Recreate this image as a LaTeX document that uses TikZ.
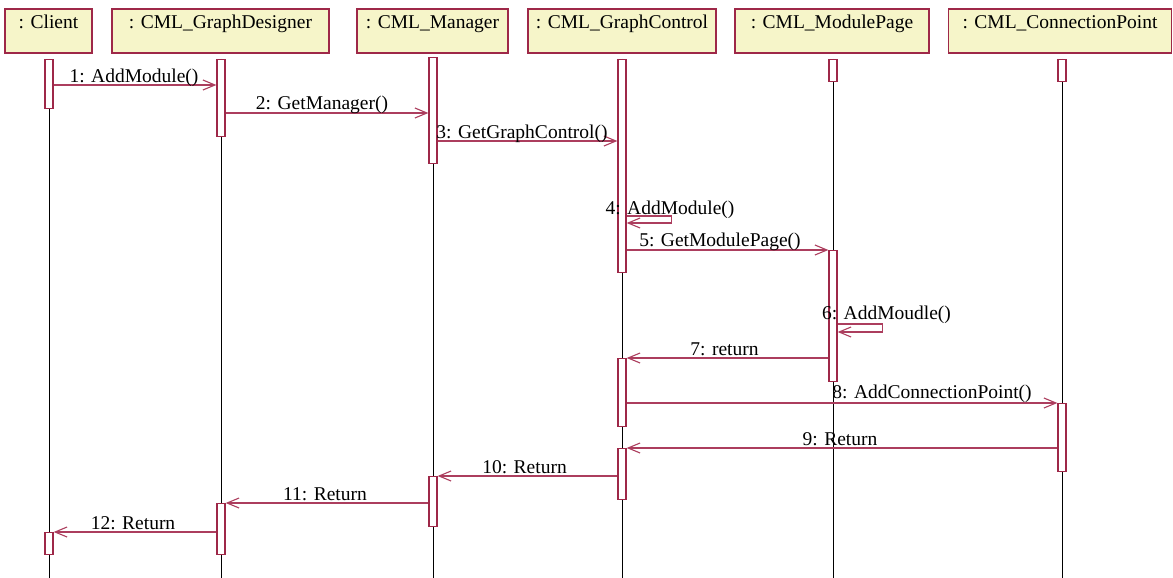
\documentclass[tikz,border=0pt]{standalone}
\usepackage{fontspec}
\setmainfont{Liberation Serif}
\usetikzlibrary{arrows.meta}

\definecolor{frame}{RGB}{158,40,72}
\definecolor{msgcol}{RGB}{172,62,94}
\definecolor{headfill}{RGB}{246,245,201}

\begin{document}
\begin{tikzpicture}[x=1pt,y=-1pt,
  font=\fontsize{19.5}{23}\selectfont,
  head/.style={draw=frame, fill=headfill, line width=1.6pt, anchor=north,
    inner xsep=0pt, inner ysep=6pt, text height=14pt, text depth=18pt},
  act/.style={draw=frame, fill=white, line width=1.3pt, minimum width=8pt,
    inner sep=0pt, anchor=north},
  life/.style={draw=black, line width=0.9pt},
  msg/.style={draw=msgcol, line width=1.2pt,
    -{Straight Barb[length=12pt,width=10pt,line width=1.1pt]}},
  lbl/.style={anchor=base, inner sep=0pt}]

\useasboundingbox (0,0) rectangle (1173,578);

% object headers
\node[head, minimum width=87pt]  (client) at (48.5,8)  {: Client};
\node[head, minimum width=217pt] (gd)     at (220.5,8) {: CML\_GraphDesigner};
\node[head, minimum width=151pt] (mgr)    at (432.5,8) {: CML\_Manager};
\node[head, minimum width=188pt] (gc)     at (622,8)   {: CML\_GraphControl};
\node[head, minimum width=194pt] (mp)     at (832,8)   {: CML\_ModulePage};
\node[head, minimum width=223pt] (cp)     at (1060,8)  {: CML\_ConnectionPoint};

% lifeline ends
\coordinate (clientEnd) at (49,578);
\coordinate (gdEnd)     at (221,578);
\coordinate (mgrEnd)    at (433,578);
\coordinate (gcEnd)     at (622,578);
\coordinate (mpEnd)     at (833,578);
\coordinate (cpEnd)     at (1062,578);

\draw[life] (49,59)   -- (clientEnd);
\draw[life] (221,59)  -- (gdEnd);
\draw[life] (433,57)  -- (mgrEnd);
\draw[life] (622,59)  -- (gcEnd);
\draw[life] (833,59)  -- (mpEnd);
\draw[life] (1062,59) -- (cpEnd);

% activation bars
\node[act, minimum height=49pt]  (c1)  at (49,59)   {};
\node[act, minimum height=22pt]  (c2)  at (49,532)  {};
\node[act, minimum height=77pt]  (d1)  at (221,59)  {};
\node[act, minimum height=51pt]  (d2)  at (221,503) {};
\node[act, minimum height=106pt] (m1)  at (433,57)  {};
\node[act, minimum height=50pt]  (m2)  at (433,476) {};
\node[act, minimum height=213pt] (g1)  at (622,59)  {};
\node[act, minimum height=68pt]  (g2)  at (622,358) {};
\node[act, minimum height=51pt]  (g3)  at (622,448) {};
\node[act, minimum height=22pt]  (p1)  at (833,59)  {};
\node[act, minimum height=131pt] (p2)  at (833,250) {};
\node[act, minimum height=22pt]  (q1)  at (1062,59) {};
\node[act, minimum height=68pt]  (q2)  at (1062,403) {};

% messages
\draw[msg] (c1.east |- 0,85)  -- (d1.west |- 0,85);
\node[lbl] (l1) at (134,82) {1: AddModule()};

\draw[msg] (d1.east |- 0,113) -- (m1.west |- 0,113);
\node[lbl] (l2) at (322,110) {2: GetManager()};

\draw[msg] (m1.east |- 0,141) -- (g1.west |- 0,141);
\node[lbl] (l3) at (522,138.5) {3: GetGraphControl()};

\draw[msg] (g1.east |- 0,216) -- ++(45,0) -- ++(0,7) -- (g1.east |- 0,223);
\node[lbl] (l4) at (670,214.5) {4: AddModule()};

\draw[msg] (g1.east |- 0,250) -- (p2.west |- 0,250);
\node[lbl] (l5) at (720,246.5) {5: GetModulePage()};

\draw[msg] (p2.east |- 0,324) -- ++(45,0) -- ++(0,8) -- (p2.east |- 0,332);
\node[lbl] (l6) at (886.5,319.5) {6: AddMoudle()};

\draw[msg] (p2.west |- 0,358) -- (g2.east |- 0,358);
\node[lbl] (l7) at (724.5,355) {7: return};

\draw[msg] (g2.east |- 0,403) -- (q2.west |- 0,403);
\node[lbl] (l8) at (932,398.5) {8: AddConnectionPoint()};

\draw[msg] (q2.west |- 0,448) -- (g3.east |- 0,448);
\node[lbl] (l9) at (840,445) {9: Return};

\draw[msg] (g3.west |- 0,476) -- (m2.east |- 0,476);
\node[lbl] (l10) at (524.5,473) {10: Return};

\draw[msg] (m2.west |- 0,503) -- (d2.east |- 0,503);
\node[lbl] (l11) at (325,500) {11: Return};

\draw[msg] (d2.west |- 0,532) -- (c2.east |- 0,532);
\node[lbl] (l12) at (133,529) {12: Return};

\end{tikzpicture}
\end{document}
